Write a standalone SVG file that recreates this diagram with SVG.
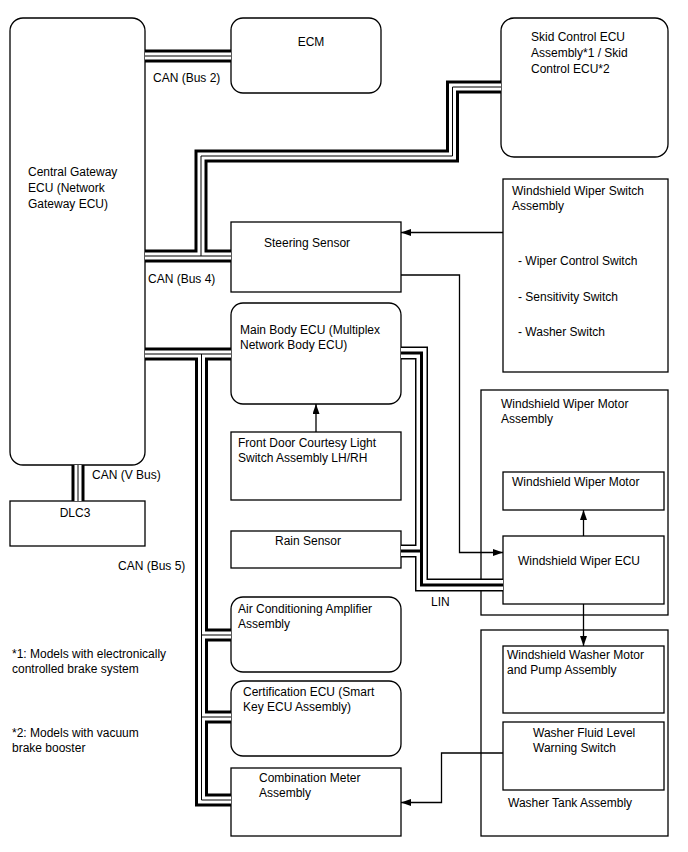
<svg xmlns="http://www.w3.org/2000/svg" width="688" height="852" viewBox="0 0 688 852">
<defs>
<style>
.b{fill:#fff;stroke:#000;stroke-width:1.3}
.c{fill:none;stroke:#000;stroke-width:1.3}
text{font-family:"Liberation Sans",Arial,sans-serif;font-size:12px;fill:#000}
.bo{fill:none;stroke:#000;stroke-width:13;stroke-linejoin:miter}
.bw{fill:none;stroke:#fff;stroke-width:7;stroke-linejoin:miter}
.bc{fill:none;stroke:#000;stroke-width:1;stroke-linejoin:miter}
.lw{fill:none;stroke:#fff;stroke-width:10;stroke-linejoin:miter}
.lc{fill:none;stroke:#000;stroke-width:3;stroke-linejoin:miter}
</style>
<marker id="ah" markerWidth="10" markerHeight="7" refX="10" refY="3.5" orient="auto" markerUnits="userSpaceOnUse"><path d="M0,0 L10,3.5 L0,7 z" fill="#000"/></marker>
</defs>
<rect width="688" height="852" fill="#fff"/>

<g id="central-gateway"><rect class="b" x="10" y="18" width="135" height="447" rx="13"/>
<text x="28" y="176">Central Gateway</text><text x="28" y="192">ECU (Network</text><text x="28" y="208">Gateway ECU)</text></g>
<g id="ecm"><rect class="b" x="231" y="18" width="150" height="75" rx="12"/><text x="311" y="46" text-anchor="middle">ECM</text></g>
<g id="skid"><rect class="b" x="501" y="18" width="167" height="139" rx="13"/>
<text x="531" y="41">Skid Control ECU</text><text x="531" y="57">Assembly*1 / Skid</text><text x="531" y="73">Control ECU*2</text></g>
<g id="wiper-switch"><rect class="b" x="503" y="179" width="165" height="193"/>
<text x="512" y="195">Windshield Wiper Switch</text><text x="512" y="210">Assembly</text>
<text x="518" y="265">- Wiper Control Switch</text><text x="518" y="301">- Sensitivity Switch</text><text x="518" y="336">- Washer Switch</text></g>
<g id="steering"><rect class="b" x="231" y="222" width="170" height="70"/><text x="264" y="247">Steering Sensor</text></g>
<g id="main-body"><rect class="b" x="231" y="303" width="170" height="101" rx="12"/>
<text x="240" y="334">Main Body ECU (Multiplex</text><text x="240" y="348.5">Network Body ECU)</text></g>
<g id="front-door"><rect class="b" x="231" y="432" width="170" height="68"/>
<text x="238" y="447">Front Door Courtesy Light</text><text x="238" y="462">Switch Assembly LH/RH</text></g>
<g id="dlc3"><rect class="b" x="10" y="501" width="135" height="45"/><text x="75" y="517" text-anchor="middle">DLC3</text></g>
<g id="rain"><rect class="b" x="231" y="531" width="170" height="37"/><text x="275" y="545">Rain Sensor</text></g>
<g id="wiper-motor-assy"><rect class="b" x="481" y="390" width="187" height="225"/>
<text x="501" y="408">Windshield Wiper Motor</text><text x="501" y="422.5">Assembly</text></g>
<g id="wiper-motor"><rect class="b" x="503" y="472" width="161" height="38"/><text x="512" y="486">Windshield Wiper Motor</text></g>
<g id="wiper-ecu"><rect class="b" x="503" y="536" width="161" height="68"/><text x="518" y="565">Windshield Wiper ECU</text></g>
<g id="washer-tank"><rect class="b" x="481" y="630" width="187" height="206"/><text x="508" y="807">Washer Tank Assembly</text></g>
<g id="washer-motor"><rect class="b" x="503" y="646" width="161" height="67"/>
<text x="507" y="659">Windshield Washer Motor</text><text x="507" y="674">and Pump Assembly</text></g>
<g id="washer-fluid"><rect class="b" x="503" y="722" width="161" height="68"/>
<text x="533" y="737">Washer Fluid Level</text><text x="533" y="752">Warning Switch</text></g>
<g id="ac-amp"><rect class="b" x="231" y="597" width="170" height="75" rx="12"/>
<text x="238" y="613">Air Conditioning Amplifier</text><text x="238" y="628">Assembly</text></g>
<g id="cert-ecu"><rect class="b" x="231" y="681" width="170" height="75" rx="12"/>
<text x="243" y="696">Certification ECU (Smart</text><text x="243" y="711">Key ECU Assembly)</text></g>
<g id="combo-meter"><rect class="b" x="231" y="768" width="170" height="68"/>
<text x="259" y="782">Combination Meter</text><text x="259" y="797">Assembly</text></g>

<g id="connectors">
<path class="bo" d="M145,56 H231 M145,256 H231 M201,256 V156 H452.5 V87 H501 M145,354 H231 M201.5,354 V800 H231 M201.5,635 H231 M201.5,717 H231 M78,465 V501"/>
<path class="bw" d="M145,56 H231 M145,256 H231 M201,256 V156 H452.5 V87 H501 M145,354 H231 M201.5,354 V800 H231 M201.5,635 H231 M201.5,717 H231 M78,465 V501"/>
<path class="bc" d="M145,56 H231 M145,256 H231 M201,256 V156 H452.5 V87 H501 M145,354 H231 M201.5,354 V800 H231 M201.5,635 H231 M201.5,717 H231 M78,465 V501"/>
<path class="bo" d="M401,353 H421.5 V585 H503 M401,551 H421.5"/>
<path class="lw" d="M401,353 H421.5 V585 H503 M401,551 H421.5"/>
<path class="lc" d="M401,353 H421.5 V585 H503 M401,551 H421.5"/>
<path class="c" d="M503,232.5 H401" marker-end="url(#ah)"/>
<path class="c" d="M401,275 H459.5 V552.5 H503" marker-end="url(#ah)"/>
<path class="c" d="M316,432 V404" marker-end="url(#ah)"/>
<path class="c" d="M583.5,536 V510" marker-end="url(#ah)"/>
<path class="c" d="M583.5,604 V646" marker-end="url(#ah)"/>
<path class="c" d="M503,753 H441.5 V802.5 H401" marker-end="url(#ah)"/>
</g>

<g id="labels">
<text x="153" y="82">CAN (Bus 2)</text>
<text x="148" y="283">CAN (Bus 4)</text>
<text x="92" y="479">CAN (V Bus)</text>
<text x="118" y="570">CAN (Bus 5)</text>
<text x="431" y="606">LIN</text>
<text x="12" y="658">*1: Models with electronically</text>
<text x="12" y="673">controlled brake system</text>
<text x="12" y="737">*2: Models with vacuum</text>
<text x="12" y="752">brake booster</text>
</g>
</svg>
